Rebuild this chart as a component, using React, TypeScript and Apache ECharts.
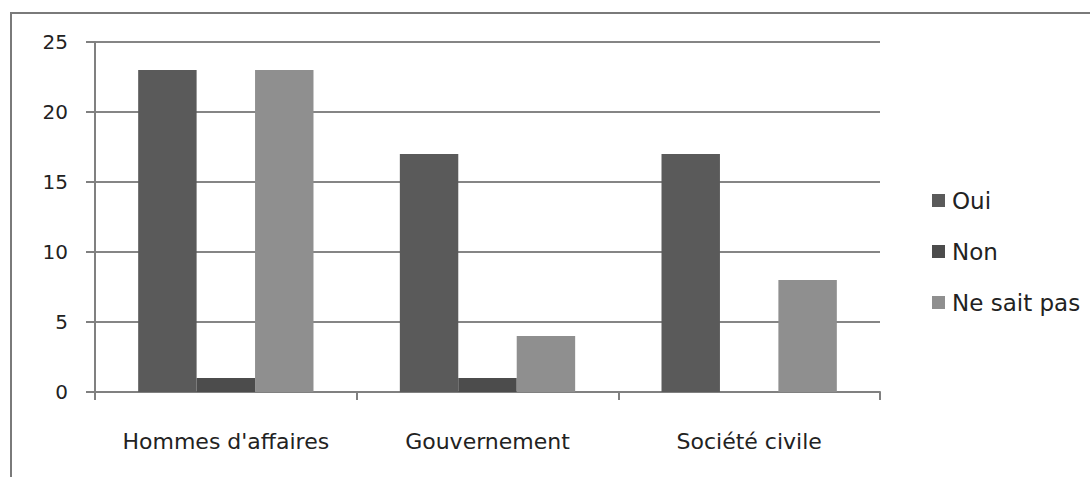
import React, { useEffect, useRef } from "react";
import * as echarts from "echarts";

const categories = ["Hommes d'affaires", "Gouvernement", "Société civile"];
const seriesNames = ["Oui", "Non", "Ne sait pas"];
const ouiValues = [23, 17, 17];
const nonValues = [1, 1, 0];
const nspValues = [23, 4, 8];
const yTicks = [0, 5, 10, 15, 20, 25];

const colors = ["#5a5a5a", "#4c4c4c", "#8f8f8f"];
const font = "'DejaVu Sans', sans-serif";

export default function App() {
  const ref = useRef<HTMLDivElement>(null);

  useEffect(() => {
    document.body.style.margin = "0";
    if (!ref.current) return;
    const chart = echarts.init(ref.current, undefined, { renderer: "svg" });
    const values = [ouiValues, nonValues, nspValues];
    chart.setOption({
      animation: false,
      backgroundColor: "#ffffff",
      color: colors,
      graphic: [
        {
          type: "rect",
          shape: { x: 11, y: 13, width: 1300, height: 600 },
          style: { fill: "none", stroke: "#7a7a7a", lineWidth: 2 },
          silent: true,
        },
      ],
      grid: { left: 95, right: 210, top: 42, bottom: 85 },
      legend: {
        orient: "vertical",
        left: 927,
        top: 184,
        itemWidth: 13,
        itemHeight: 13,
        itemGap: 28,
        icon: "rect",
        textStyle: { fontFamily: font, fontSize: 23, color: "#222", padding: [0, 0, 0, 2] },
        data: seriesNames,
      },
      xAxis: {
        type: "category",
        data: categories,
        axisLine: { lineStyle: { color: "#808080", width: 2 } },
        axisTick: { show: true, interval: 0, length: 8, lineStyle: { color: "#808080", width: 2 } },
        axisLabel: { interval: 0, fontFamily: font, fontSize: 22, color: "#222", margin: 38 },
      },
      yAxis: {
        type: "value",
        min: yTicks[0],
        max: yTicks[yTicks.length - 1],
        interval: 5,
        axisLine: { show: true, lineStyle: { color: "#808080", width: 2 } },
        axisTick: { show: true, length: 9, lineStyle: { color: "#808080", width: 2 } },
        axisLabel: { fontFamily: font, fontSize: 20, color: "#222", margin: 27 },
        splitLine: { lineStyle: { color: "#858585", width: 2 } },
      },
      series: seriesNames.map((name, i) => ({
        name,
        type: "bar",
        data: values[i],
        barGap: "0%",
        barCategoryGap: "33%",
        itemStyle: { color: colors[i] },
      })),
    });
    return () => chart.dispose();
  }, []);

  return <div ref={ref} style={{ width: 1090, height: 477 }} />;
}
